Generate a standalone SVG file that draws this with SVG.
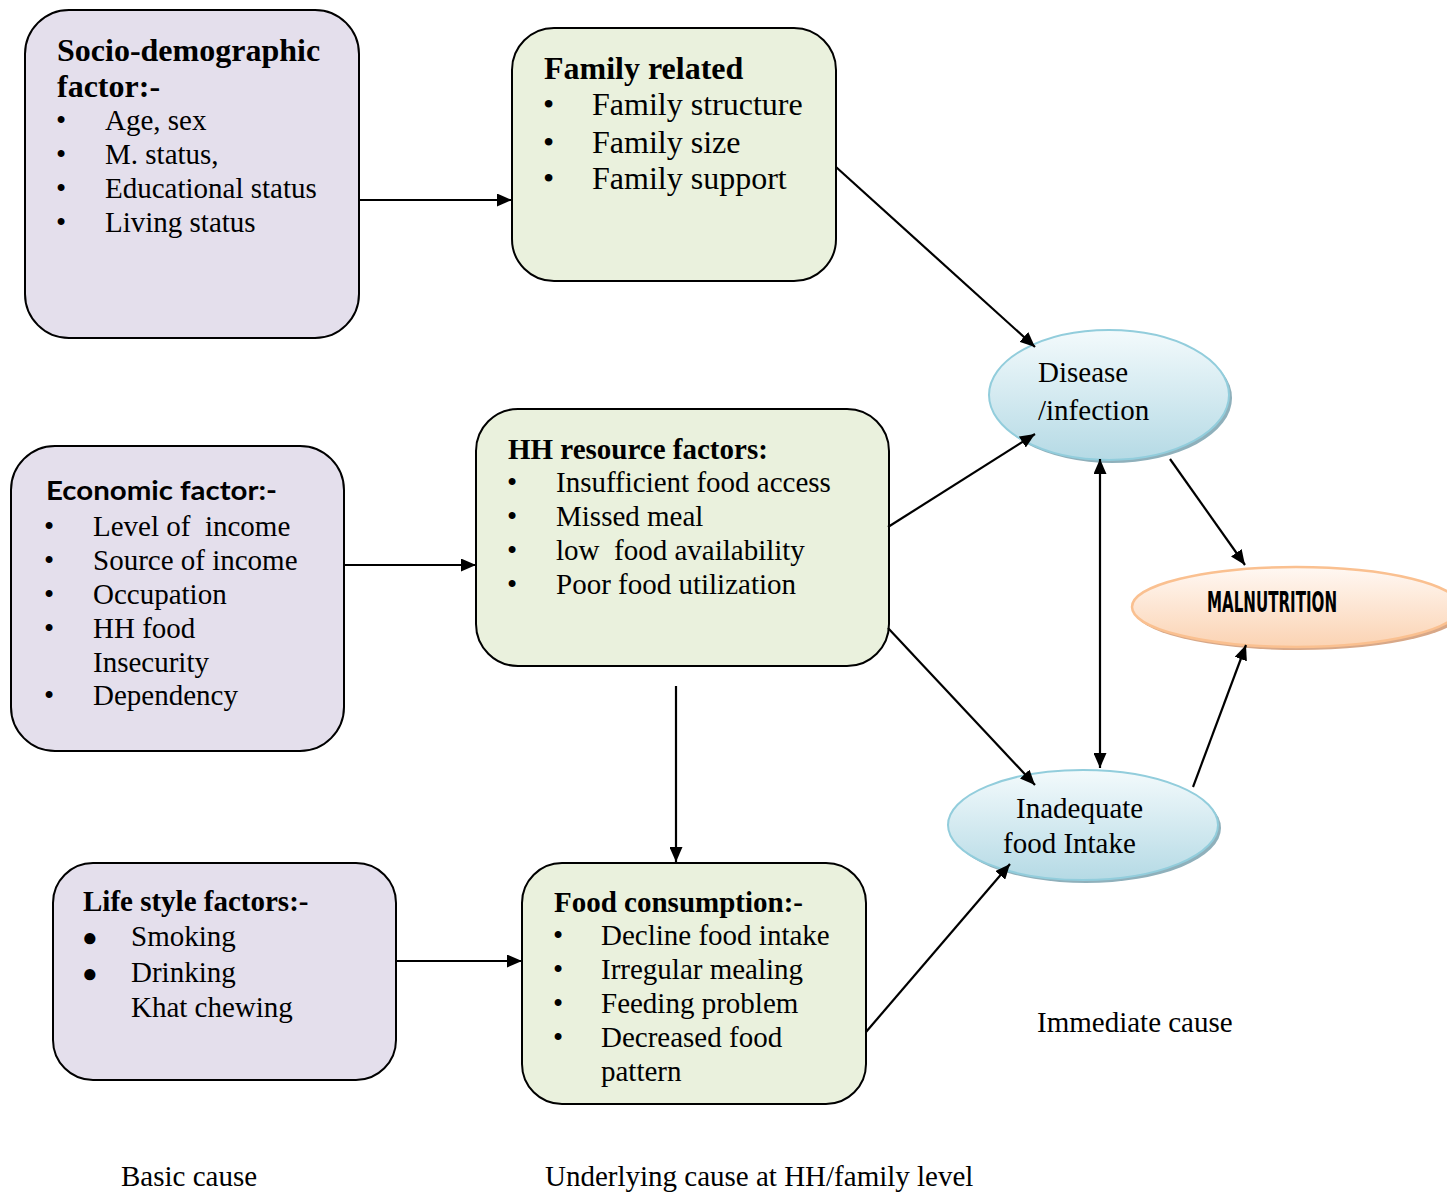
<svg xmlns="http://www.w3.org/2000/svg" width="1447" height="1195" viewBox="0 0 1447 1195">
<defs>
<style>
.box{stroke:#000;stroke-width:2}
.pur{fill:#E4DFEC}
.grn{fill:#EAF1DD}
.t{font-family:"Liberation Serif","Times New Roman",serif;font-size:29px;fill:#000}
.b{font-weight:bold}
.big{font-size:32px}
.cal{font-family:Lato,"Open Sans","Liberation Sans",sans-serif;font-weight:bold;font-size:27px;fill:#000}
.mal{font-family:"DejaVu Sans Condensed","Liberation Sans Narrow","DejaVu Sans",sans-serif;font-weight:bold;font-size:28px;fill:#000}
.con line{stroke:#000;stroke-width:2.2;fill:none}
</style>
<linearGradient id="gBlue" x1="0" y1="0" x2="0" y2="1">
<stop offset="0" stop-color="#F3FAFC"/>
<stop offset="1" stop-color="#B5DAE5"/>
</linearGradient>
<linearGradient id="gOr" x1="0" y1="0" x2="0" y2="1">
<stop offset="0" stop-color="#FFF8F3"/>
<stop offset="1" stop-color="#FBD3B3"/>
</linearGradient>
<marker id="ah" viewBox="0 0 15 13" refX="15" refY="6.5" markerWidth="15" markerHeight="13" markerUnits="userSpaceOnUse" orient="auto-start-reverse">
<path d="M0,0 L15,6.5 L0,13 Z" fill="#000"/>
</marker>
</defs>
<rect width="1447" height="1195" fill="#fff"/>

<g id="socio">
<rect class="box pur" x="25" y="10" width="334" height="328" rx="44"/>
<text class="t b big" x="57" y="61">Socio-demographic</text>
<text class="t b big" x="57" y="97">factor:-</text>
<text class="t" x="56" y="130">•</text><text class="t" x="105" y="130">Age, sex</text>
<text class="t" x="56" y="164">•</text><text class="t" x="105" y="164">M. status,</text>
<text class="t" x="56" y="198">•</text><text class="t" x="105" y="198">Educational status</text>
<text class="t" x="56" y="232">•</text><text class="t" x="105" y="232">Living status</text>
</g>

<g id="family">
<rect class="box grn" x="512" y="28" width="324" height="253" rx="42"/>
<text class="t b big" x="544" y="79">Family related</text>
<text class="t big" x="543" y="115">•</text><text class="t big" x="592" y="115">Family structure</text>
<text class="t big" x="543" y="153">•</text><text class="t big" x="592" y="153">Family size</text>
<text class="t big" x="543" y="189">•</text><text class="t big" x="592" y="189">Family support</text>
</g>

<g id="economic">
<rect class="box pur" x="11" y="446" width="333" height="305" rx="44"/>
<text class="cal" x="46" y="500" textLength="231" lengthAdjust="spacingAndGlyphs">Economic factor:-</text>
<text class="t" x="44" y="536">•</text><text class="t" x="93" y="536" xml:space="preserve">Level of  income</text>
<text class="t" x="44" y="570">•</text><text class="t" x="93" y="570">Source of income</text>
<text class="t" x="44" y="604">•</text><text class="t" x="93" y="604">Occupation</text>
<text class="t" x="44" y="638">•</text><text class="t" x="93" y="638">HH food</text>
<text class="t" x="93" y="672">Insecurity</text>
<text class="t" x="44" y="705">•</text><text class="t" x="93" y="705">Dependency</text>
</g>

<g id="hhresource">
<rect class="box grn" x="476" y="409" width="413" height="257" rx="42"/>
<text class="t b" x="508" y="459">HH resource factors:</text>
<text class="t" x="507" y="492">•</text><text class="t" x="556" y="492">Insufficient food access</text>
<text class="t" x="507" y="526">•</text><text class="t" x="556" y="526">Missed meal</text>
<text class="t" x="507" y="560">•</text><text class="t" x="556" y="560" xml:space="preserve">low  food availability</text>
<text class="t" x="507" y="594">•</text><text class="t" x="556" y="594">Poor food utilization</text>
</g>

<g id="lifestyle">
<rect class="box pur" x="53" y="863" width="343" height="217" rx="40"/>
<text class="t b" x="83" y="911">Life style factors:-</text>
<text class="t" x="82" y="946" style="font-size:26px">●</text><text class="t" x="131" y="946">Smoking</text>
<text class="t" x="82" y="982" style="font-size:26px">●</text><text class="t" x="131" y="982">Drinking</text>
<text class="t" x="131" y="1017">Khat chewing</text>
</g>

<g id="foodconsumption">
<rect class="box grn" x="522" y="863" width="344" height="241" rx="40"/>
<text class="t b" x="554" y="912">Food consumption:-</text>
<text class="t" x="553" y="945">•</text><text class="t" x="601" y="945">Decline food intake</text>
<text class="t" x="553" y="979">•</text><text class="t" x="601" y="979">Irregular mealing</text>
<text class="t" x="553" y="1013">•</text><text class="t" x="601" y="1013">Feeding problem</text>
<text class="t" x="553" y="1047">•</text><text class="t" x="601" y="1047">Decreased food</text>
<text class="t" x="601" y="1081">pattern</text>
</g>

<g id="disease">
<ellipse cx="1112" cy="398" rx="120" ry="65" fill="#8FB0BB"/>
<ellipse cx="1109" cy="395" rx="120" ry="65" fill="url(#gBlue)" stroke="#92CDDC" stroke-width="2"/>
<text class="t" x="1038" y="382">Disease</text>
<text class="t" x="1038" y="420">/infection</text>
</g>

<g id="malnutrition">
<ellipse cx="1299" cy="610" rx="165" ry="40" fill="#D8A888"/>
<ellipse cx="1296" cy="607" rx="164" ry="40" fill="url(#gOr)" stroke="#FAC090" stroke-width="2.5"/>
<text class="mal" x="1207" y="612" textLength="130" lengthAdjust="spacingAndGlyphs">MALNUTRITION</text>
</g>

<g id="inadequate">
<ellipse cx="1086" cy="828" rx="135" ry="55" fill="#8FB0BB"/>
<ellipse cx="1083" cy="825" rx="135" ry="55" fill="url(#gBlue)" stroke="#92CDDC" stroke-width="2"/>
<text class="t" x="1016" y="818">Inadequate</text>
<text class="t" x="1003" y="853">food Intake</text>
</g>

<g id="labels">
<text class="t" x="1037" y="1032">Immediate cause</text>
<text class="t" x="121" y="1186">Basic cause</text>
<text class="t" x="545" y="1186">Underlying cause at HH/family level</text>
</g>

<g id="connectors" class="con">
<line x1="359" y1="200" x2="512" y2="200" marker-end="url(#ah)"/>
<line x1="836" y1="167" x2="1035" y2="347" marker-end="url(#ah)"/>
<line x1="344" y1="565" x2="476" y2="565" marker-end="url(#ah)"/>
<line x1="888" y1="527" x2="1035" y2="434" marker-end="url(#ah)"/>
<line x1="888" y1="628" x2="1035" y2="785" marker-end="url(#ah)"/>
<line x1="676" y1="686" x2="676" y2="862" marker-end="url(#ah)"/>
<line x1="396" y1="961" x2="522" y2="961" marker-end="url(#ah)"/>
<line x1="866" y1="1032" x2="1010" y2="864" marker-end="url(#ah)"/>
<line x1="1100" y1="459" x2="1100" y2="768" marker-start="url(#ah)" marker-end="url(#ah)"/>
<line x1="1170" y1="459" x2="1245" y2="565" marker-end="url(#ah)"/>
<line x1="1193" y1="787" x2="1246" y2="645" marker-end="url(#ah)"/>
</g>
</svg>
